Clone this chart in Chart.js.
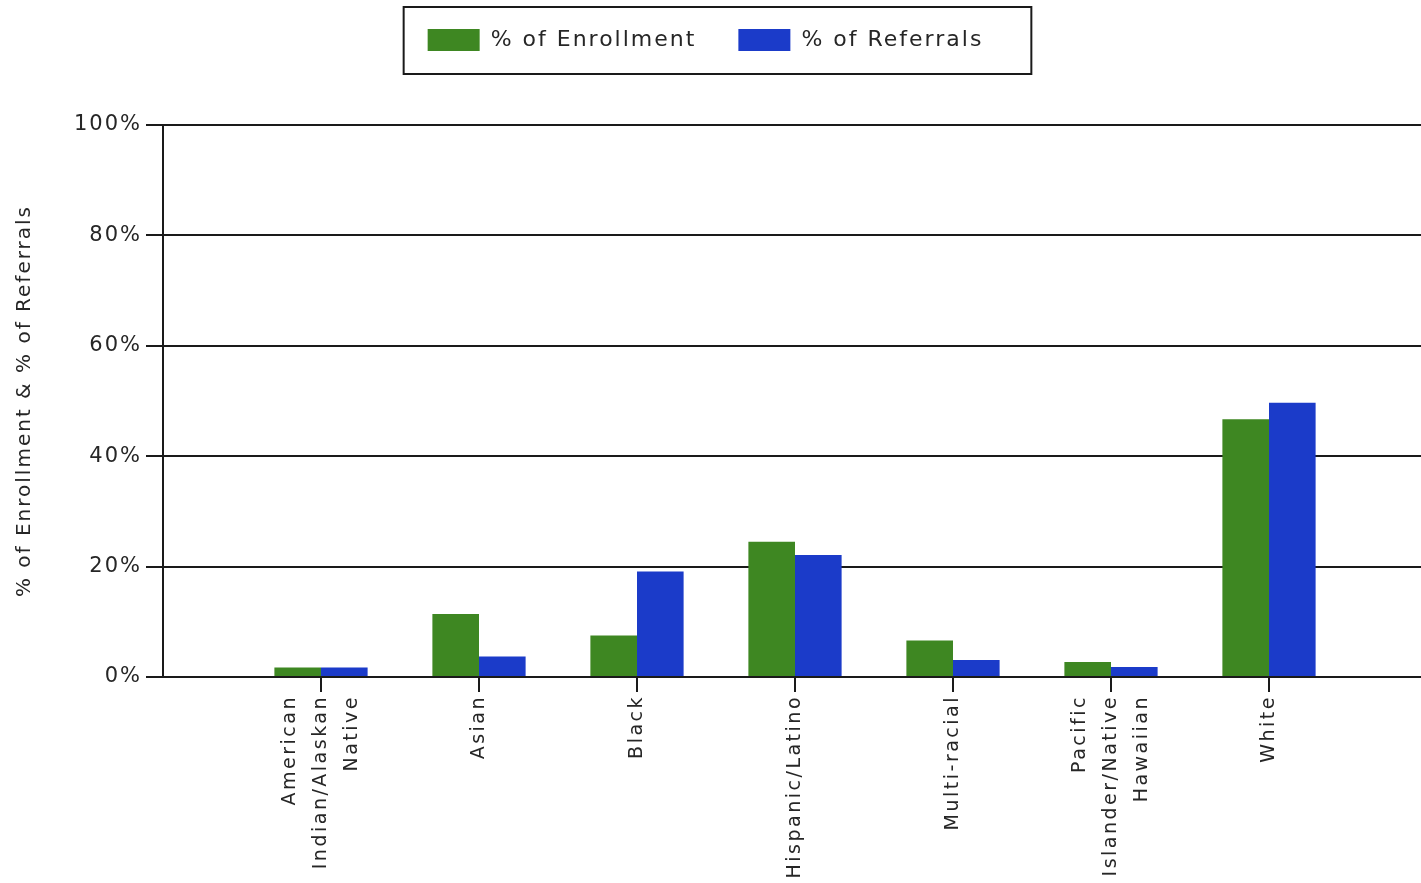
<!DOCTYPE html>
<html>
<head>
<meta charset="utf-8">
<title>% of Enrollment & % of Referrals</title>
<script src="https://cdn.jsdelivr.net/npm/chart.js@4.4.1/dist/chart.umd.min.js"></script>
<style>
    html, body { margin: 0; padding: 0; background: #fff; overflow: hidden; }
    #wrap { position: relative; width: 1428px; height: 883px; }
</style>
</head>
<body>
<div id="wrap"><canvas id="barChart"></canvas></div>
<script>
var categories = [
    ['American', 'Indian/Alaskan', 'Native'],
    'Asian',
    'Black',
    'Hispanic/Latino',
    'Multi-racial',
    ['Pacific', 'Islander/Native', 'Hawaiian'],
    'White'
];
var enrollment = [1.7, 11.4, 7.5, 24.5, 6.6, 2.7, 46.7];
var referrals = [1.7, 3.7, 19.1, 22.1, 3.1, 1.8, 49.7];
var yTicks = [0, 20, 40, 60, 80, 100];
var seriesNames = ['% of Enrollment', '% of Referrals'];

document.addEventListener('DOMContentLoaded', function () {
    var lineColor = '#1a1a1a';
    var textColor = '#262626';
    var fontFamily = '"DejaVu Sans", Verdana, sans-serif';

    // one empty slot on each side, so the categories sit on whole steps
    var labels = [''].concat(categories.map(function (c) { return c; }), ['']);
    function pad(arr) { return [null].concat(arr, [null]); }

    var spacing = {
        id: 'spacing',
        beforeUpdate: function (chart) { chart.ctx.letterSpacing = '2px'; },
        beforeDraw: function (chart) { chart.ctx.letterSpacing = '2px'; }
    };

    // legend sits a bit higher and left, the plot starts at y=125
    var legendRoom = {
        id: 'legendRoom',
        beforeInit: function (chart) {
            var fit = chart.legend.fit;
            chart.legend.fit = function () {
                fit.bind(chart.legend)();
                this.height = 138;
                if (this.lineWidths && this.lineWidths.length) {
                    this.lineWidths[0] += 16;
                }
            };
        }
    };

    var extras = {
        id: 'extras',
        afterDraw: function (chart) {
            var ctx = chart.ctx;
            // legend frame
            var boxes = chart.legend.legendHitBoxes;
            if (boxes && boxes.length) {
                var first = boxes[0], last = boxes[boxes.length - 1];
                ctx.save();
                ctx.strokeStyle = lineColor;
                ctx.lineWidth = 2;
                ctx.strokeRect(first.left - 24, first.top - 22,
                    last.left + last.width + 48 - (first.left - 24), first.height + 45);
                ctx.restore();
            }
            // category labels, rotated, lines centred on the tick
            var x = chart.scales.x;
            var lh = 31;
            ctx.save();
            ctx.letterSpacing = '2.5px';
            ctx.font = '19px ' + fontFamily;
            ctx.fillStyle = textColor;
            ctx.textAlign = 'right';
            ctx.textBaseline = 'middle';
            categories.forEach(function (cat, i) {
                var lines = Array.isArray(cat) ? cat : [cat];
                var px = x.getPixelForValue(i + 1);
                lines.forEach(function (line, j) {
                    var off = (j - (lines.length - 1) / 2) * lh;
                    ctx.save();
                    ctx.translate(px + off, x.top + 18);
                    ctx.rotate(-Math.PI / 2);
                    ctx.fillText(line, 0, 0);
                    ctx.restore();
                });
            });
            ctx.restore();
        }
    };

    var barCtx = document.getElementById('barChart').getContext('2d');

    new Chart(barCtx, {
        type: 'bar',
        data: {
            labels: labels,
            datasets: [{
                label: seriesNames[0],
                data: pad(enrollment),
                backgroundColor: '#3e8722',
                borderWidth: 0
            }, {
                label: seriesNames[1],
                data: pad(referrals),
                backgroundColor: '#1b3bc9',
                borderWidth: 0
            }]
        },
        options: {
            responsive: true,
            maintainAspectRatio: false,
            devicePixelRatio: 1,
            animation: false,
            categoryPercentage: 0.59,
            barPercentage: 1.0,
            layout: { padding: { left: 0, top: -13, right: 1, bottom: 0 } },
            plugins: {
                legend: {
                    position: 'top',
                    labels: {
                        boxWidth: 52,
                        boxHeight: 22,
                        padding: 42,
                        color: textColor,
                        font: { family: fontFamily, size: 22 }
                    }
                },
                tooltip: { enabled: false }
            },
            scales: {
                x: {
                    offset: false,
                    grid: {
                        display: true,
                        offset: false,
                        drawOnChartArea: false,
                        drawTicks: true,
                        tickLength: 15,
                        lineWidth: 2,
                        color: function (c) {
                            return (c.index === 0 || c.index === labels.length - 1) ? 'rgba(0,0,0,0)' : lineColor;
                        }
                    },
                    border: { display: true, color: lineColor, width: 2 },
                    ticks: { display: false, autoSkip: false },
                    afterFit: function (scale) { scale.height = 883 - 677; }
                },
                y: {
                    min: 0,
                    max: 100,
                    afterBuildTicks: function (scale) {
                        scale.ticks = yTicks.map(function (v) { return { value: v }; });
                    },
                    grid: {
                        color: lineColor,
                        lineWidth: 2,
                        tickLength: 17
                    },
                    border: { display: true, color: lineColor, width: 2 },
                    ticks: {
                        padding: 4,
                        color: textColor,
                        font: { family: fontFamily, size: 21 },
                        callback: function (v) { return v + '%'; }
                    },
                    title: {
                        display: true,
                        text: '% of Enrollment & % of Referrals',
                        color: textColor,
                        font: { family: fontFamily, size: 20 },
                        padding: { top: 13, bottom: 0 }
                    },
                    afterFit: function (scale) { scale.width = 163; }
                }
            }
        },
        plugins: [spacing, legendRoom, extras]
    });
});
</script>
</body>
</html>
